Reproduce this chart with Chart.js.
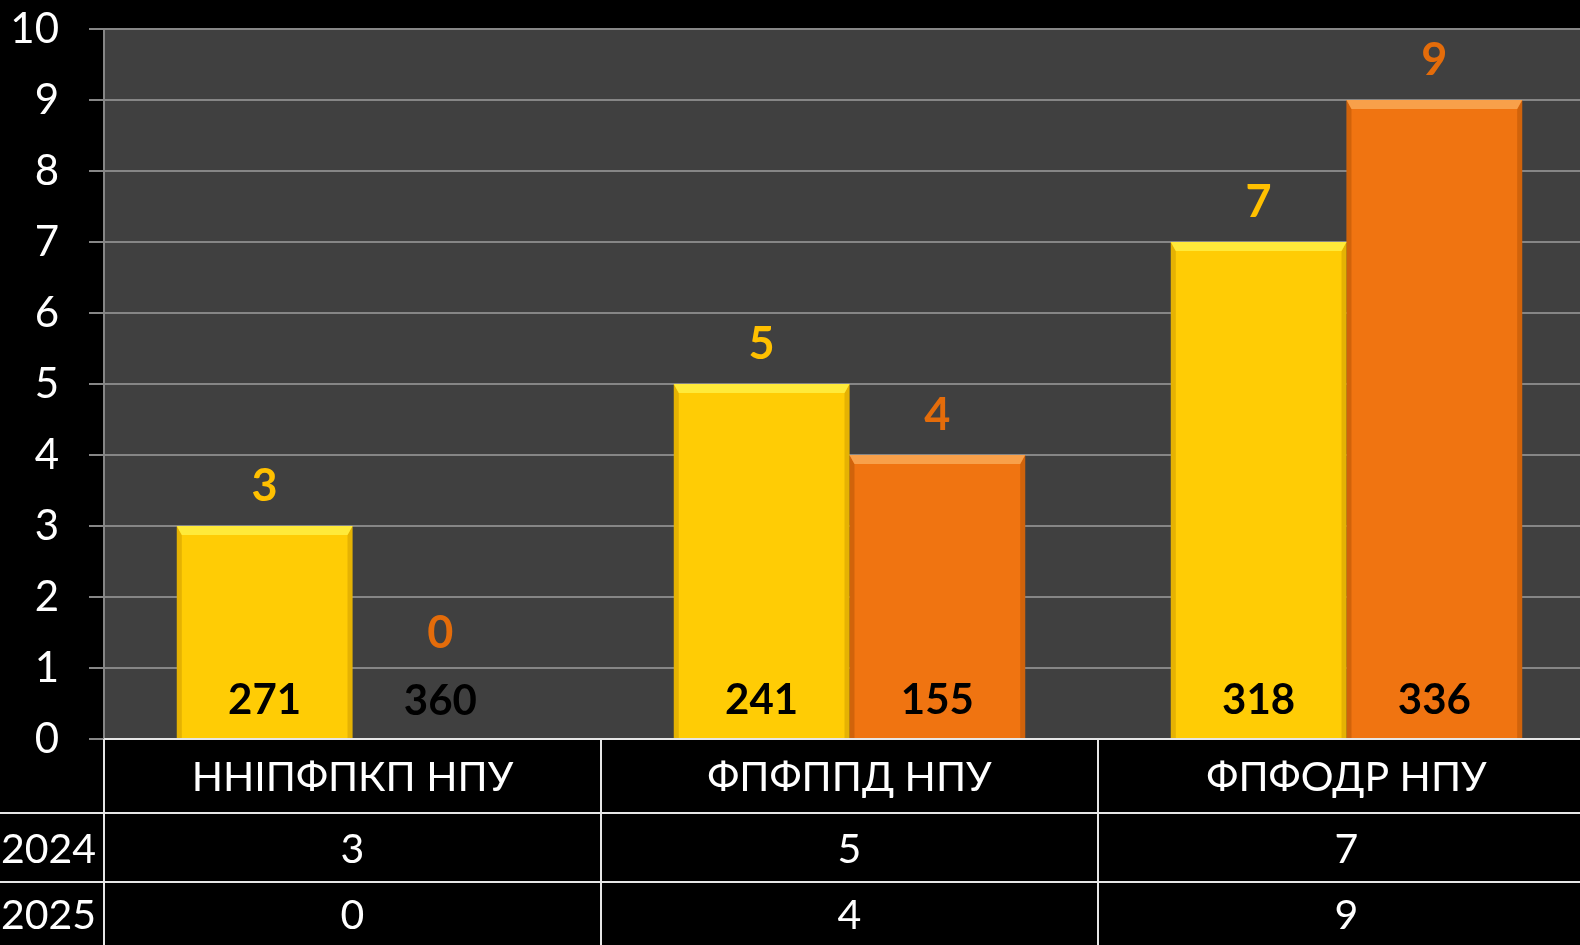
<!DOCTYPE html>
<html><head><meta charset="utf-8">
<script src="https://cdn.jsdelivr.net/npm/chart.js@4"></script>
<style>html,body{margin:0;padding:0;background:#000;overflow:hidden;width:1580px;height:945px}canvas{display:block}</style>
</head><body><canvas id="c" width="1595" height="945"></canvas>
<script>
const categories = ['ННІПФПКП НПУ', 'ФПФППД НПУ', 'ФПФОДР НПУ'];
const seriesNames = ['2024', '2025'];
const values2024 = [3, 5, 7];
const values2025 = [0, 4, 9];
const inside2024 = [271, 241, 318];
const inside2025 = [360, 155, 336];
const yMin = 0, yMax = 10, yStep = 1;

const FONT = "Lato, 'Noto Sans', sans-serif";
const barColors = ['#FFCC05', '#F07411'];
const labelColors = ['#FFC000', '#E46C0A'];
const bevelLight = ['#FFEA3A', '#F8A04A'];
const bevelDark = ['rgba(170,120,0,0.3)', 'rgba(140,60,0,0.3)'];
const insideLabels = [inside2024, inside2025];

function poly(ctx, pts) { ctx.beginPath(); ctx.moveTo(pts[0][0], pts[0][1]); for (let i = 1; i < pts.length; i++) ctx.lineTo(pts[i][0], pts[i][1]); ctx.closePath(); ctx.fill(); }
function line(ctx, x1, y1, x2, y2) { ctx.beginPath(); ctx.moveTo(x1, y1); ctx.lineTo(x2, y2); ctx.stroke(); }

const bgPlugin = {
  id: 'bg',
  beforeDraw(chart) {
    const { ctx, chartArea: a } = chart;
    ctx.save();
    ctx.fillStyle = '#000'; ctx.fillRect(0, 0, chart.width, chart.height);
    ctx.fillStyle = '#404040'; ctx.fillRect(a.left, a.top, a.right - a.left, a.bottom - a.top);
    ctx.restore();
  }
};

const barDeco = {
  id: 'barDeco',
  afterDatasetsDraw(chart) {
    const ctx = chart.ctx;
    ctx.save();
    chart.data.datasets.forEach((ds, di) => {
      const meta = chart.getDatasetMeta(di);
      meta.data.forEach((bar, i) => {
        const v = ds.data[i];
        const l = bar.x - bar.width / 2, r = bar.x + bar.width / 2, t = bar.y, b = bar.base;
        if (v > 0) {
          const e = 9, s = 5;
          ctx.fillStyle = bevelDark[di];
          poly(ctx, [[l, t], [l + s, t + e], [l + s, b], [l, b]]);
          poly(ctx, [[r, t], [r, b], [r - s, b], [r - s, t + e]]);
          ctx.fillStyle = bevelLight[di];
          poly(ctx, [[l, t], [r, t], [r - s, t + e], [l + s, t + e]]);
        }
        ctx.fillStyle = labelColors[di];
        ctx.font = 'bold 45px ' + FONT;
        ctx.textAlign = 'center'; ctx.textBaseline = 'alphabetic';
        const y = Math.min(t - 25, b - 91);
        ctx.fillText(String(v), bar.x, y);
        ctx.fillStyle = '#000';
        ctx.font = 'bold 42px ' + FONT;
        ctx.fillText(String(insideLabels[di][i]), bar.x, b - 24);
      });
    });
    ctx.restore();
  }
};

const tablePlugin = {
  id: 'dataTable',
  afterDraw(chart) {
    const { ctx, chartArea: a } = chart;
    const n = categories.length;
    const cw = (a.right - a.left) / n;
    const rows = [a.bottom, a.bottom + 74, a.bottom + 143, chart.height];
    ctx.save();
    ctx.strokeStyle = '#E6E6E6'; ctx.lineWidth = 2;
    line(ctx, a.left, a.bottom, a.right, a.bottom);
    line(ctx, 0, rows[1], a.right, rows[1]);
    line(ctx, 0, rows[2], a.right, rows[2]);
    for (let k = 0; k <= n; k++) { const x = a.left + k * cw; line(ctx, x, a.bottom, x, chart.height); }
    ctx.fillStyle = '#fff';
    ctx.font = '41px ' + FONT;
    ctx.textAlign = 'center'; ctx.textBaseline = 'middle';
    const series = [values2024, values2025];
    for (let i = 0; i < n; i++) {
      const cx = chart.scales.x.getPixelForValue(i);
      ctx.fillText(categories[i], cx, (rows[0] + rows[1]) / 2 + 2);
      series.forEach((s, si) => ctx.fillText(String(s[i]), cx, (rows[si + 1] + rows[si + 2]) / 2 + 2));
    }
    ctx.textAlign = 'left';
    seriesNames.forEach((nm, si) => ctx.fillText(nm, 1, (rows[si + 1] + rows[si + 2]) / 2 + 2));
    ctx.restore();
  }
};

new Chart(document.getElementById('c'), {
  type: 'bar',
  data: {
    labels: categories,
    datasets: [
      { label: seriesNames[0], data: values2024, backgroundColor: barColors[0], borderWidth: 0, barPercentage: 1, categoryPercentage: 0.707 },
      { label: seriesNames[1], data: values2025, backgroundColor: barColors[1], borderWidth: 0, barPercentage: 1, categoryPercentage: 0.707 }
    ]
  },
  options: {
    responsive: false, animation: false, devicePixelRatio: 1,
    layout: { autoPadding: false, padding: { top: 29, bottom: 206, left: 0, right: 0 } },
    plugins: { legend: { display: false }, tooltip: { enabled: false } },
    scales: {
      x: { display: false },
      y: {
        min: yMin, max: yMax,
        ticks: { stepSize: yStep, color: '#fff', font: { family: FONT, size: 42 }, padding: 30 },
        grid: { color: '#868686', lineWidth: 2, tickLength: 15, drawTicks: true },
        border: { color: '#868686', width: 2 },
        afterFit(scale) { scale.width = 104; scale.paddingTop = 0; scale.paddingBottom = 0; }
      }
    }
  },
  plugins: [bgPlugin, barDeco, tablePlugin]
});
</script></body></html>
